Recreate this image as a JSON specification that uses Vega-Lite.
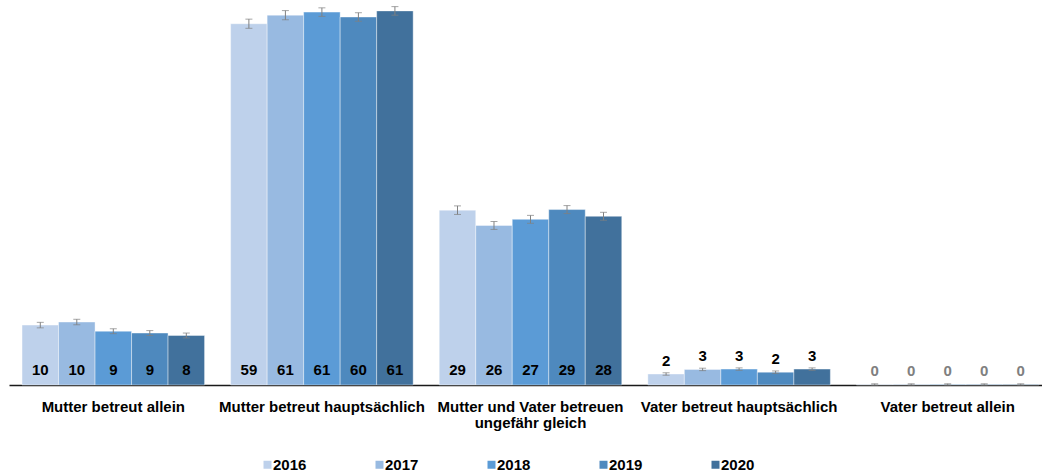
{
  "$schema": "https://vega.github.io/schema/vega-lite/v6.json",
  "width": 1033,
  "height": 379,
  "autosize": {"type": "none"},
  "padding": {"left": 9, "top": 6, "right": 0, "bottom": 90},
  "background": "white",
  "config": {
    "view": {"stroke": null},
    "font": "Liberation Sans"
  },
  "data": {
    "values": [
      {"cat": "Mutter betreut allein", "year": "2016", "value": 9.8, "lo": 9.35, "hi": 10.25},
      {"cat": "Mutter betreut allein", "year": "2017", "value": 10.3, "lo": 9.85, "hi": 10.75},
      {"cat": "Mutter betreut allein", "year": "2018", "value": 8.8, "lo": 8.4, "hi": 9.2},
      {"cat": "Mutter betreut allein", "year": "2019", "value": 8.5, "lo": 8.1, "hi": 8.9},
      {"cat": "Mutter betreut allein", "year": "2020", "value": 8.1, "lo": 7.7, "hi": 8.5},
      {"cat": "Mutter betreut hauptsächlich", "year": "2016", "value": 59.1, "lo": 58.35, "hi": 59.85},
      {"cat": "Mutter betreut hauptsächlich", "year": "2017", "value": 60.5, "lo": 59.75, "hi": 61.25},
      {"cat": "Mutter betreut hauptsächlich", "year": "2018", "value": 61.0, "lo": 60.3, "hi": 61.7},
      {"cat": "Mutter betreut hauptsächlich", "year": "2019", "value": 60.2, "lo": 59.5, "hi": 60.9},
      {"cat": "Mutter betreut hauptsächlich", "year": "2020", "value": 61.2, "lo": 60.5, "hi": 61.9},
      {"cat": "Mutter und Vater betreuen ungefähr gleich", "year": "2016", "value": 28.6, "lo": 27.9, "hi": 29.3},
      {"cat": "Mutter und Vater betreuen ungefähr gleich", "year": "2017", "value": 26.1, "lo": 25.45, "hi": 26.75},
      {"cat": "Mutter und Vater betreuen ungefähr gleich", "year": "2018", "value": 27.1, "lo": 26.45, "hi": 27.75},
      {"cat": "Mutter und Vater betreuen ungefähr gleich", "year": "2019", "value": 28.7, "lo": 28.05, "hi": 29.35},
      {"cat": "Mutter und Vater betreuen ungefähr gleich", "year": "2020", "value": 27.6, "lo": 26.95, "hi": 28.25},
      {"cat": "Vater betreut hauptsächlich", "year": "2016", "value": 1.8, "lo": 1.6, "hi": 2.0},
      {"cat": "Vater betreut hauptsächlich", "year": "2017", "value": 2.55, "lo": 2.35, "hi": 2.75},
      {"cat": "Vater betreut hauptsächlich", "year": "2018", "value": 2.6, "lo": 2.4, "hi": 2.8},
      {"cat": "Vater betreut hauptsächlich", "year": "2019", "value": 2.1, "lo": 1.9, "hi": 2.3},
      {"cat": "Vater betreut hauptsächlich", "year": "2020", "value": 2.6, "lo": 2.4, "hi": 2.8},
      {"cat": "Vater betreut allein", "year": "2016", "value": 0.1, "lo": 0.0, "hi": 0.2},
      {"cat": "Vater betreut allein", "year": "2017", "value": 0.1, "lo": 0.0, "hi": 0.2},
      {"cat": "Vater betreut allein", "year": "2018", "value": 0.1, "lo": 0.0, "hi": 0.2},
      {"cat": "Vater betreut allein", "year": "2019", "value": 0.1, "lo": 0.0, "hi": 0.2},
      {"cat": "Vater betreut allein", "year": "2020", "value": 0.1, "lo": 0.0, "hi": 0.2}
    ]
  },
  "encoding": {
    "x": {
      "field": "cat",
      "type": "nominal",
      "sort": null,
      "scale": {"range": [0, 1043], "paddingInner": 0.125, "paddingOuter": 0.0625},
      "axis": {
        "title": null,
        "labelAngle": 0,
        "ticks": false,
        "domainColor": "#1a1a1a",
        "domainWidth": 1.5,
        "labelFont": "Liberation Sans",
        "labelFontSize": 15,
        "labelFontWeight": "bold",
        "labelColor": "#000000",
        "labelPadding": 14,
        "labelLineHeight": 16,
        "labelLimit": 300,
        "labelExpr": "datum.label == 'Mutter und Vater betreuen ungefähr gleich' ? ['Mutter und Vater betreuen', 'ungefähr gleich'] : datum.label"
      }
    },
    "xOffset": {"field": "year", "type": "nominal", "scale": {"paddingInner": 0, "paddingOuter": 0}}
  },
  "layer": [
    {
      "mark": {"type": "bar", "stroke": "#ffffff", "strokeWidth": 0.8, "strokeOpacity": 0.5},
      "encoding": {
        "y": {"field": "value", "type": "quantitative", "scale": {"domain": [0, 62], "nice": false}, "axis": null},
        "color": {
          "field": "year",
          "type": "nominal",
          "scale": {"domain": ["2016", "2017", "2018", "2019", "2020"], "range": ["#BED1EB", "#98BAE1", "#5B9BD6", "#4E89BE", "#41719C"]},
          "legend": {
            "title": null,
            "orient": "none",
            "direction": "horizontal",
            "columns": 5,
            "legendX": 251,
            "legendY": 451,
            "padding": 0,
            "symbolType": "square",
            "symbolSize": 64,
            "symbolStrokeWidth": 0,
            "labelOffset": -2,
            "columnPadding": 65,
            "labelFont": "Liberation Sans",
            "labelFontSize": 15,
            "labelFontWeight": "bold",
            "labelColor": "#000000"
          }
        }
      }
    },
    {
      "mark": {"type": "rule", "color": "#808080", "strokeWidth": 1},
      "encoding": {
        "y": {"field": "lo", "type": "quantitative"},
        "y2": {"field": "hi"}
      }
    },
    {
      "mark": {"type": "tick", "color": "#808080", "orient": "horizontal", "size": 7, "thickness": 1},
      "encoding": {"y": {"field": "hi", "type": "quantitative"}}
    },
    {
      "mark": {"type": "tick", "color": "#808080", "orient": "horizontal", "size": 7, "thickness": 1},
      "encoding": {"y": {"field": "lo", "type": "quantitative"}}
    },
    {
      "transform": [{"filter": "datum.value >= 5"}],
      "mark": {"type": "text", "font": "Liberation Sans", "fontSize": 15, "fontWeight": "bold", "baseline": "middle", "dy": -15, "color": "#000000"},
      "encoding": {
        "y": {"datum": 0, "type": "quantitative"},
        "text": {"field": "value", "type": "quantitative", "format": ".0f"}
      }
    },
    {
      "transform": [{"filter": "datum.value < 5"}],
      "mark": {"type": "text", "font": "Liberation Sans", "fontSize": 15, "fontWeight": "bold", "baseline": "middle", "dy": -13},
      "encoding": {
        "y": {"field": "value", "type": "quantitative"},
        "text": {"field": "value", "type": "quantitative", "format": ".0f"},
        "color": {"condition": {"test": "datum.value < 0.5", "value": "#808080"}, "value": "#000000"}
      }
    }
  ]
}
